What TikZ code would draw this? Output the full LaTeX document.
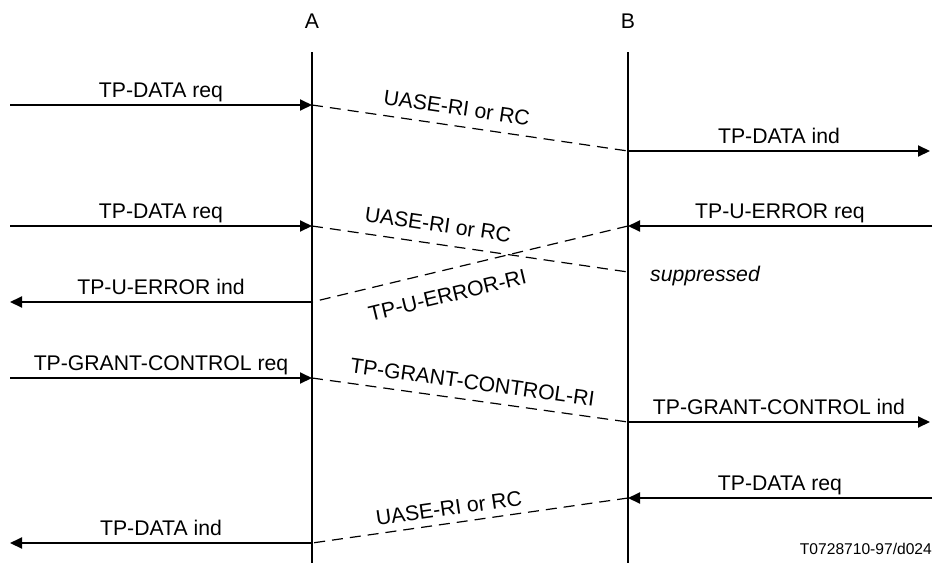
\documentclass[tikz,border=0pt]{standalone}
\usepackage{fontspec}
\setmainfont{Liberation Sans}
\usetikzlibrary{arrows.meta}
\begin{document}
\begin{tikzpicture}[x=1pt,y=-1pt,
  lifeline/.style={line width=2pt},
  msg/.style={line width=2pt,-{Triangle[length=12pt,width=11pt]}},
  ri/.style={line width=1.2pt,dash pattern=on 11pt off 7pt},
  lbl/.style={font=\fontsize{21.2}{25}\selectfont, inner sep=0pt},
  hl/.style={lbl, anchor=base, yshift=8pt, midway}
]
\useasboundingbox (0,0) rectangle (935,563);
% lifelines
\node[lbl] (A) at (312,21) {A};
\node[lbl] (B) at (628,21) {B};
\coordinate (Atop) at (312,52);
\coordinate (Abot) at (312,563);
\coordinate (Btop) at (628,52);
\coordinate (Bbot) at (628,563);
\draw[lifeline] (Atop) -- (Abot);
\draw[lifeline] (Btop) -- (Bbot);
% row 1
\coordinate (L1) at (10,105);
\coordinate (A1) at (312,105);
\coordinate (B1) at (628,151);
\coordinate (R1) at (930,151);
\draw[msg] (L1) -- node[hl] {TP-DATA req} (A1);
\draw[ri] (A1) -- node[lbl,sloped,pos=0.45,above=10pt] {UASE-RI or RC} (B1);
\draw[msg] (B1) -- node[hl] {TP-DATA ind} (R1);
% row 2
\coordinate (L2) at (10,226);
\coordinate (A2) at (312,226);
\coordinate (B2s) at (628,272);
\coordinate (R2) at (932,226);
\coordinate (B2) at (628,226);
\coordinate (A2b) at (312,302);
\coordinate (L2b) at (10,302);
\draw[msg] (L2) -- node[hl] {TP-DATA req} (A2);
\draw[ri] (A2) -- node[lbl,sloped,pos=0.39,above=11.5pt] {UASE-RI or RC} (B2s);
\node[lbl,anchor=base west] (sup) at (650,281) {\itshape suppressed};
\draw[msg] (R2) -- node[hl] {TP-U-ERROR req} (B2);
\draw[ri] (B2) -- node[lbl,sloped,pos=0.59,below=17pt] {TP-U-ERROR-RI} (A2b);
\draw[msg] (A2b) -- node[hl] {TP-U-ERROR ind} (L2b);
% row 3
\coordinate (L3) at (10,378);
\coordinate (A3) at (312,378);
\coordinate (B3) at (628,422);
\coordinate (R3) at (930,422);
\draw[msg] (L3) -- node[hl] {TP-GRANT-CONTROL req} (A3);
\draw[ri] (A3) -- node[lbl,sloped,pos=0.5,above=10pt] {TP-GRANT-CONTROL-RI} (B3);
\draw[msg] (B3) -- node[hl] {TP-GRANT-CONTROL ind} (R3);
% row 4
\coordinate (R4) at (932,498);
\coordinate (B4) at (628,498);
\coordinate (A4) at (312,543);
\coordinate (L4) at (10,543);
\draw[msg] (R4) -- node[hl] {TP-DATA req} (B4);
\draw[ri] (B4) -- node[lbl,sloped,pos=0.56,above=7pt] {UASE-RI or RC} (A4);
\draw[msg] (A4) -- node[hl] {TP-DATA ind} (L4);
% footer
\node[font=\fontsize{15.6}{18}\selectfont,inner sep=0pt,anchor=base east] (fig) at (932,554) {T0728710-97/d024};
\end{tikzpicture}
\end{document}
